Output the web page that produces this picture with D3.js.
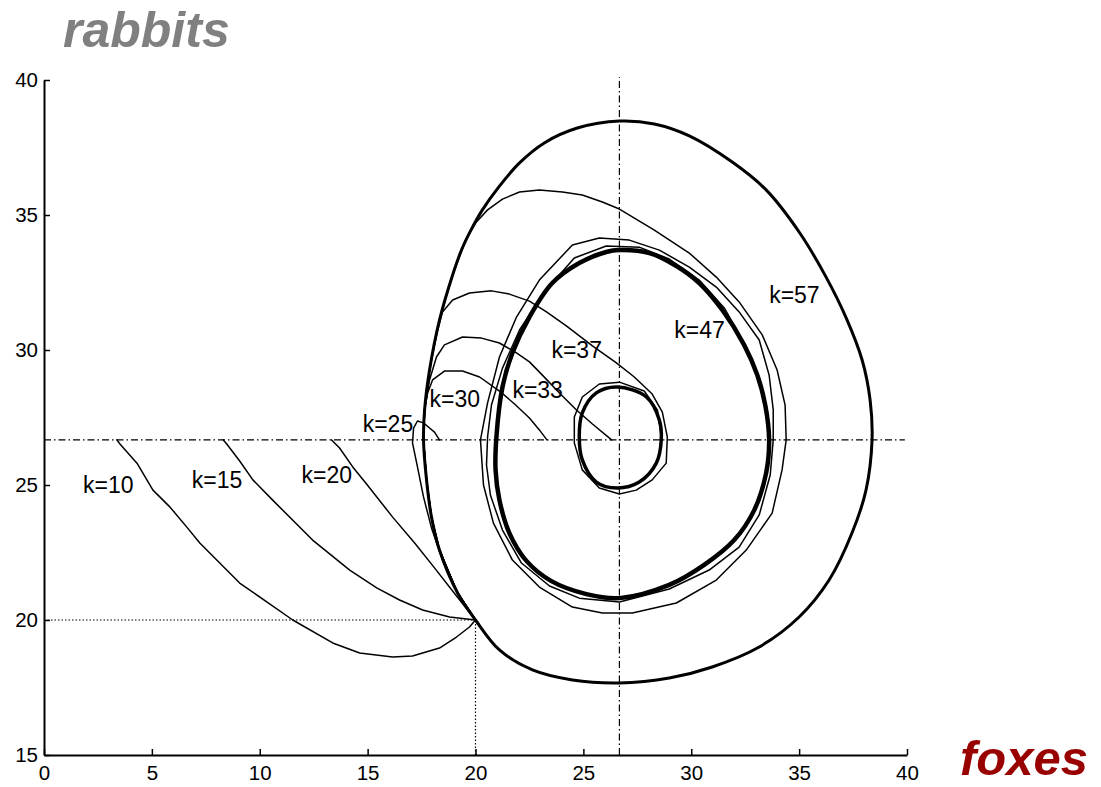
<!DOCTYPE html>
<html>
<head>
<meta charset="utf-8">
<script src="https://cdn.jsdelivr.net/npm/d3@7"></script>
<style>
  html, body { margin: 0; padding: 0; background: #fff; }
  svg { display: block; }
  text { font-family: "Liberation Sans", Arial, Helvetica, sans-serif; }
</style>
</head>
<body>
<svg id="chart" width="1101" height="787"></svg>
<script>
// Axis ticks
const xTicks = [0, 5, 10, 15, 20, 25, 30, 35, 40];
const yTicks = [15, 20, 25, 30, 35, 40];

// Equilibrium and starting state (foxes, rabbits)
const equilibrium = [26.67, 26.67];
const startState = [20, 20];

// Trajectories in the (foxes, rabbits) plane, one per carrying capacity k
const trajK10 = [[20,20],[19.72,19.74],[19.12,19.37],[18.33,18.96],[17.08,18.67],[16.16,18.63],[14.63,18.78],[13.38,19.15],[11.53,20.0],[9.07,21.37],[7.22,22.85],[6.62,23.44],[5.83,24.19],[5.05,24.81],[4.31,25.81],[3.52,26.52],[3.38,26.67]];

const trajK15 = [[20,20],[18.80,20.11],[17.55,20.37],[16.48,20.74],[15.42,21.19],[14.17,21.85],[12.45,22.96],[10.60,24.44],[9.68,25.19],[9.07,25.89],[8.47,26.52],[8.31,26.67]];

const trajK20 = [[20,20],[19.12,20.89],[18.10,21.93],[17.18,22.85],[16.16,23.81],[14.95,25.04],[14.31,25.67],[13.70,26.37],[13.33,26.67]];

const trajK25 = [[20,20],[19.17,21.0],[18.47,22.22],[17.96,23.41],[17.59,24.56],[17.31,25.67],[17.08,26.56],[17.13,27.11],[17.31,27.37],[17.59,27.30],[17.87,27.11],[18.10,26.96],[18.33,26.67]];

const trajK30 = [[20,20],[19.17,21.0],[18.33,22.59],[17.96,23.81],[17.73,25.19],[17.59,26.67],[17.64,27.78],[17.78,28.41],[18.01,28.89],[18.56,29.22],[19.40,29.22],[20.19,29.0],[21.11,28.48],[21.81,28.0],[22.50,27.48],[22.96,27.04],[23.31,26.67]];

const trajK33 = [[20,20],[19.17,21.0],[18.33,22.59],[17.96,23.81],[17.73,25.19],[17.59,26.67],[17.64,27.78],[17.87,28.89],[18.19,29.74],[18.56,30.19],[19.40,30.48],[20.28,30.44],[21.11,30.26],[21.90,29.89],[22.50,29.56],[23.10,29.07],[23.89,28.41],[24.68,27.78],[25.42,27.26],[26.31,26.67]];

const trajK37 = [[20,20],[19.17,21.0],[18.33,22.59],[17.96,23.81],[17.73,25.19],[17.59,26.67],[17.64,27.78],[17.87,29.26],[18.15,30.44],[18.47,31.41],[18.94,31.85],[19.72,32.11],[20.74,32.19],[21.57,32.07],[22.50,31.81],[23.29,31.41],[24.21,30.89],[25.42,30.15],[26.53,29.52],[27.36,29.0],[28.19,28.37],[28.66,27.70],[28.89,26.78],[28.84,25.81],[28.19,25.19],[27.45,24.81],[26.67,24.67],[25.74,24.89],[24.95,25.56],[24.58,26.56],[24.58,27.52],[24.95,28.26],[25.74,28.74],[26.67,28.81],[27.82,28.48],[28.43,27.78],[28.61,26.78]];

const cycleK37 = [[26.57,28.63],[27.92,28.26],[28.52,27.41],[28.61,26.67],[28.38,25.81],[27.59,25.11],[26.57,24.89],[25.60,25.11],[24.95,25.93],[24.81,26.78],[24.95,27.67],[25.60,28.41]];

const trajK47 = [[20,20],[19.17,21.0],[18.33,22.59],[17.96,23.81],[17.73,25.19],[17.59,26.67],[17.64,27.78],[17.87,29.26],[18.33,31.11],[18.94,32.78],[19.54,34.07],[20.0,34.70],[20.56,35.19],[21.25,35.59],[22.04,35.85],[22.96,35.93],[24.03,35.85],[24.95,35.74],[25.88,35.48],[26.67,35.22],[28.29,34.44],[29.91,33.59],[31.16,32.70],[32.22,31.78],[33.29,30.56],[33.98,29.26],[34.35,27.96],[34.40,26.67],[34.21,25.56],[33.75,23.96],[32.55,22.59],[31.16,21.48],[29.31,20.63],[27.27,20.26],[25.88,20.26],[24.49,20.48],[22.96,21.22],[21.71,22.22],[20.83,23.59],[20.37,25.0],[20.23,26.67],[20.56,28.04],[21.11,29.74],[21.90,31.22],[22.96,32.59],[24.49,33.89],[25.74,34.15],[27.13,34.07],[28.52,33.70],[29.91,33.07],[31.16,32.33],[32.22,31.41],[33.15,30.37],[33.61,29.07],[33.80,27.78],[33.80,26.67],[33.66,25.37],[33.15,23.89],[32.22,22.70],[30.83,21.85],[28.98,21.15],[26.67,20.67],[24.81,20.81],[23.43,21.26],[22.13,22.11],[21.25,23.33],[20.69,24.63],[20.51,25.74],[20.56,26.78],[20.74,27.96],[21.25,29.33],[22.04,30.74],[23.19,32.15],[24.58,33.41],[26.06,33.85],[27.59,33.81],[28.98,33.37],[30.37,32.59],[31.53,31.56],[32.45,30.26],[33.15,28.96],[33.52,27.78],[33.66,26.67]];

const cycleK47 = [[33.61,26.67],[33.47,25.44],[32.92,24.07],[31.99,22.96],[30.60,22.04],[28.98,21.30],[26.67,20.81],[25.14,20.96],[23.52,21.44],[22.36,22.19],[21.57,23.22],[21.11,24.44],[20.93,25.56],[20.97,26.78],[21.25,28.63],[21.71,29.89],[22.50,31.22],[23.56,32.48],[24.81,33.22],[26.06,33.63],[26.67,33.70],[28.06,33.59],[29.31,33.11],[30.37,32.48],[31.44,31.48],[32.45,30.19],[33.06,29.07],[33.43,27.96]];

const cycleK57 = [[20,20],[19.17,21.0],[18.33,22.59],[17.96,23.81],[17.73,25.19],[17.59,26.67],[17.64,27.78],[17.87,29.26],[18.33,31.11],[18.94,32.78],[19.35,33.70],[19.77,34.41],[20.32,35.19],[21.11,36.07],[22.04,36.93],[23.19,37.67],[24.72,38.22],[26.67,38.48],[28.29,38.37],[29.91,37.93],[31.90,36.96],[33.47,35.93],[35.0,34.37],[36.25,32.70],[37.18,31.19],[37.92,29.63],[38.29,28.15],[38.38,26.67],[38.10,24.81],[37.45,23.22],[36.39,21.48],[35.0,20.11],[33.15,19.0],[30.97,18.26],[28.98,17.85],[26.67,17.67],[24.49,17.78],[22.64,18.15],[21.11,18.89]];

// Curve labels, anchored at their left baseline in data units
const curveLabels = [
  { text: "k=10", x: 1.81, y: 24.70 },
  { text: "k=15", x: 6.85, y: 24.89 },
  { text: "k=20", x: 11.94, y: 25.07 },
  { text: "k=25", x: 14.77, y: 26.96 },
  { text: "k=30", x: 17.87, y: 27.89 },
  { text: "k=33", x: 21.71, y: 28.22 },
  { text: "k=37", x: 23.52, y: 29.70 },
  { text: "k=47", x: 29.21, y: 30.44 },
  { text: "k=57", x: 33.61, y: 31.74 }
];

const svg = d3.select("#chart");

const x = d3.scaleLinear().domain([0, 40]).range([44, 907]);
const y = d3.scaleLinear().domain([15, 40]).range([755, 80]);

const line = d3.line().x(d => x(d[0])).y(d => y(d[1]));
const smoothClosed = d3.line().x(d => x(d[0])).y(d => y(d[1])).curve(d3.curveCatmullRomClosed.alpha(0.5));

// Guide lines through the equilibrium (dash-dot) and the start state (dotted)
const guides = svg.append("g").attr("fill", "none").attr("stroke", "#000").attr("stroke-width", 1.2);
guides.append("path")
  .attr("d", line([[0, equilibrium[1]], [39.9, equilibrium[1]]]))
  .attr("stroke-dasharray", "7,3,1.5,3");
guides.append("path")
  .attr("d", line([[equilibrium[0], 15], [equilibrium[0], 40.1]]))
  .attr("stroke-dasharray", "7,3,1.5,3");
guides.append("path")
  .attr("d", line([[0, startState[1]], [startState[0], startState[1]]]))
  .attr("stroke-dasharray", "1.5,2");
guides.append("path")
  .attr("d", line([[startState[0], 15], [startState[0], startState[1]]]))
  .attr("stroke-dasharray", "1.5,2");

// Trajectories
const traj = svg.append("g").attr("fill", "none").attr("stroke", "#000")
  .attr("stroke-linejoin", "round").attr("stroke-linecap", "round");

[trajK10, trajK15, trajK20, trajK25, trajK30, trajK33, trajK37, trajK47].forEach(t => {
  traj.append("path").attr("d", line(t)).attr("stroke-width", 1.5);
});

traj.append("path").attr("d", smoothClosed(cycleK37)).attr("stroke-width", 3.5);
traj.append("path").attr("d", smoothClosed(cycleK47)).attr("stroke-width", 4.5);
traj.append("path").attr("d", smoothClosed(cycleK57)).attr("stroke-width", 3);

// Curve labels
svg.append("g")
  .attr("font-size", 23)
  .attr("fill", "#000")
  .selectAll("text")
  .data(curveLabels)
  .join("text")
  .attr("x", d => x(d.x))
  .attr("y", d => y(d.y))
  .text(d => d.text);

// Axes (left and bottom only, ticks pointing inward)
const xAxis = d3.axisBottom(x).tickValues(xTicks).tickSizeInner(-6).tickSizeOuter(0).tickPadding(10);
const yAxis = d3.axisLeft(y).tickValues(yTicks).tickSizeInner(-6).tickSizeOuter(0).tickPadding(6);

const gx = svg.append("g").attr("transform", "translate(0,755)").call(xAxis);
const gy = svg.append("g").attr("transform", "translate(44,0)").call(yAxis);

[gx, gy].forEach(g => {
  g.select(".domain").attr("stroke", "#000").attr("stroke-width", 2);
  g.selectAll(".tick line").attr("stroke", "#000").attr("stroke-width", 1.5);
  g.selectAll(".tick text").attr("fill", "#000").attr("font-size", 20.5)
    .attr("font-family", "'Liberation Sans', Arial, Helvetica, sans-serif");
});

// Axis titles
svg.append("text")
  .attr("x", 63).attr("y", 47)
  .attr("font-size", 50).attr("font-weight", "bold").attr("font-style", "italic")
  .attr("fill", "#808080")
  .text("rabbits");

svg.append("text")
  .attr("x", 960).attr("y", 775)
  .attr("font-size", 49).attr("font-weight", "bold").attr("font-style", "italic")
  .attr("fill", "#990000")
  .text("foxes");
</script>
</body>
</html>
